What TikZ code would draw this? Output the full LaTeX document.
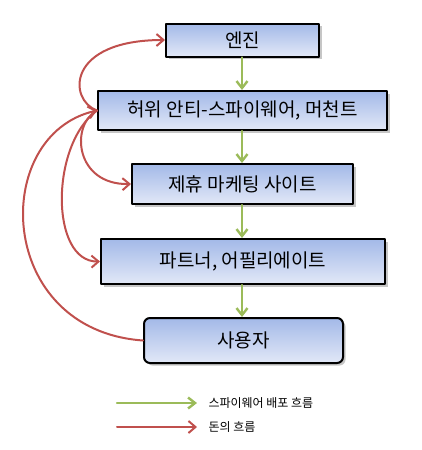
\documentclass[tikz,border=0pt]{standalone}
\usepackage{fontspec}
\setmainfont{Noto Sans CJK KR}
\usetikzlibrary{arrows.meta,shadows}
\definecolor{boxtop}{HTML}{A3B9E8}
\definecolor{boxbot}{HTML}{E2E8F7}
\definecolor{spyflow}{HTML}{9BBB59}
\definecolor{cashflow}{HTML}{C0504D}
\begin{document}
\begin{tikzpicture}[x=1pt, y=-1pt, line join=round, line cap=round,
	box/.style={draw=black, line width=2pt, top color=boxtop, bottom color=boxbot, inner sep=0pt,
		drop shadow={shadow xshift=2.5pt, shadow yshift=-2.5pt, opacity=.45}, font=\fontsize{19}{22}\selectfont},
	spy/.style={draw=spyflow, line width=2.4pt, -{Straight Barb[length=7pt,width=11pt]}},
	cash/.style={draw=cashflow, line width=2pt, -{Straight Barb[length=7pt,width=12pt]}}]
	\useasboundingbox (0,0) rectangle (421,450);
	\node[box, minimum width=153pt, minimum height=33pt] (engine) at (242.5,40) {엔진};
	\node[box, minimum width=289pt, minimum height=39pt] (fake) at (242.5,110.5) {허위 안티-스파이웨어, 머천트};
	\node[box, minimum width=221pt, minimum height=40pt] (affil) at (242.5,184) {제휴 마케팅 사이트};
	\node[box, minimum width=284pt, minimum height=45pt] (partner) at (243,261.5) {파트너, 어필리에이트};
	\node[box, rounded corners=6pt, minimum width=199pt, minimum height=45pt] (user) at (243.5,340.5) {사용자};
	% spyware goes down
	\draw[spy] (engine.south -| 242,0) -- (fake.north -| 242,0);
	\draw[spy] (fake.south -| 242,0) -- (affil.north -| 242,0);
	\draw[spy] (affil.south -| 242,0) -- (partner.north -| 242,0);
	\draw[spy] (partner.south -| 242,0) -- (user.north -| 242,0);
	% money
	\draw[cash] (fake.west) .. controls (68,100) and (66,40) .. (engine.west);
	\draw[cash] (fake.west) .. controls (70,125) and (75,185) .. (affil.west);
	\draw[cash] (fake.west) .. controls (50,145) and (50,262) .. (partner.west);
	\draw[cash] (user.west) .. controls (-5,330) and (-10,135) .. (fake.west);
	% legend
	\coordinate (sa) at (117,403); \coordinate (sb) at (197,403);
	\coordinate (ca) at (117,427); \coordinate (cb) at (197,427);
	\draw[spy] (sa) -- (sb);
	\draw[cash] (ca) -- (cb);
	\node[anchor=west, font=\fontsize{12}{14}\selectfont] (spylbl) at (205,403) {스파이웨어 배포 흐름};
	\node[anchor=west, font=\fontsize{12}{14}\selectfont] (cashlbl) at (205,427) {돈의 흐름};
\end{tikzpicture}
\end{document}
